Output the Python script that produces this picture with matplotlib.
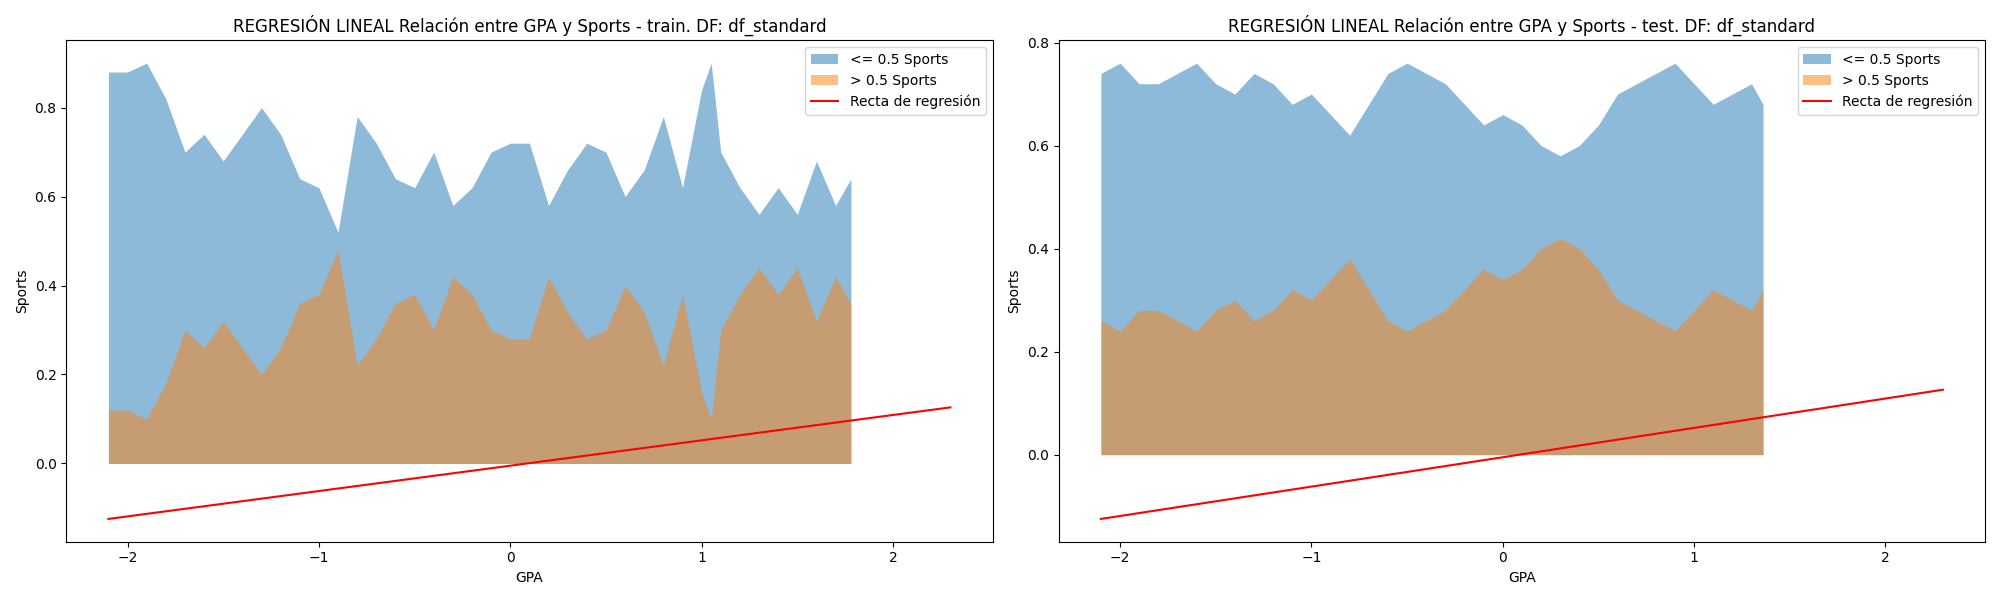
import numpy as np
import matplotlib.pyplot as plt

# proporción (media móvil) de Sports > 0.5 a lo largo de GPA
gpa_train = [-2.1, -2.0, -1.9, -1.8, -1.7, -1.6, -1.5, -1.4, -1.3, -1.2, -1.1, -1.0,
             -0.9, -0.8, -0.7, -0.6, -0.5, -0.4, -0.3, -0.2, -0.1, 0.0, 0.1, 0.2,
             0.3, 0.4, 0.5, 0.6, 0.7, 0.8, 0.9, 1.0, 1.05, 1.1, 1.2, 1.3, 1.4,
             1.5, 1.6, 1.7, 1.78]
p_train = [0.12, 0.12, 0.10, 0.18, 0.30, 0.26, 0.32, 0.26, 0.20, 0.26, 0.36, 0.38,
           0.48, 0.22, 0.28, 0.36, 0.38, 0.30, 0.42, 0.38, 0.30, 0.28, 0.28, 0.42,
           0.34, 0.28, 0.30, 0.40, 0.34, 0.22, 0.38, 0.16, 0.10, 0.30, 0.38, 0.44,
           0.38, 0.44, 0.32, 0.42, 0.36]

gpa_test = [-2.1, -2.0, -1.9, -1.8, -1.7, -1.6, -1.5, -1.4, -1.3, -1.2, -1.1, -1.0,
            -0.9, -0.8, -0.7, -0.6, -0.5, -0.4, -0.3, -0.2, -0.1, 0.0, 0.1, 0.2,
            0.3, 0.4, 0.5, 0.6, 0.7, 0.8, 0.9, 1.0, 1.1, 1.2, 1.3, 1.36]
p_test = [0.26, 0.24, 0.28, 0.28, 0.26, 0.24, 0.28, 0.30, 0.26, 0.28, 0.32, 0.30,
          0.34, 0.38, 0.32, 0.26, 0.24, 0.26, 0.28, 0.32, 0.36, 0.34, 0.36, 0.40,
          0.42, 0.40, 0.36, 0.30, 0.28, 0.26, 0.24, 0.28, 0.32, 0.30, 0.28, 0.32]

# recta de regresión
reg_x = [-2.1, 2.3]
slope = 0.057
intercept = -0.005

fig, axes = plt.subplots(1, 2, figsize=(20, 6), dpi=100)
for ax, x, p, nombre in [(axes[0], gpa_train, p_train, "train"),
                         (axes[1], gpa_test, p_test, "test")]:
    x = np.array(x)
    p = np.array(p)
    ax.fill_between(x, 0, 1 - p, color="C0", alpha=0.5, lw=0, label="<= 0.5 Sports")
    ax.fill_between(x, 0, p, color="C1", alpha=0.5, lw=0, label="> 0.5 Sports")
    rx = np.array(reg_x)
    ax.plot(rx, slope * rx + intercept, color="red", label="Recta de regresión")
    ax.set_title(f"REGRESIÓN LINEAL Relación entre GPA y Sports - {nombre}. DF: df_standard")
    ax.set_xlabel("GPA")
    ax.set_ylabel("Sports")
    ax.legend(loc="upper right")

plt.tight_layout()
plt.savefig("out.png")
plt.close()
